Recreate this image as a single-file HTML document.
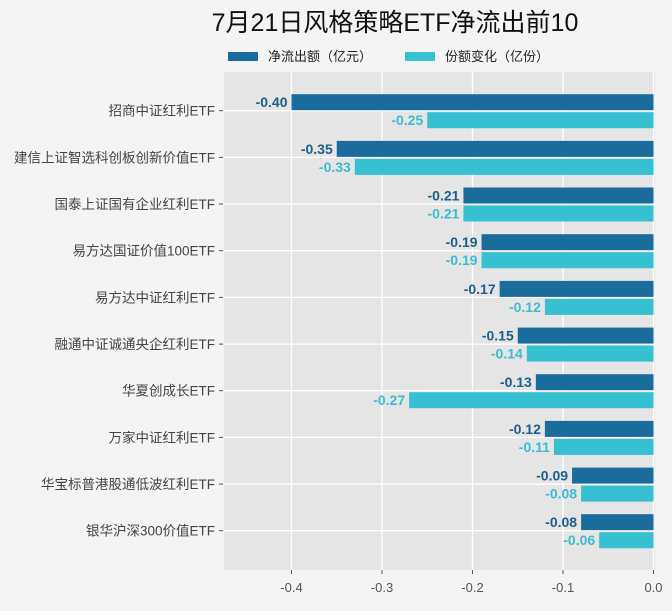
<!DOCTYPE html>
<html><head><meta charset="utf-8"><style>
body{margin:0;background:#f4f4f4;}
svg text{font-family:"Liberation Sans","Noto Sans CJK SC",sans-serif;}
.c{font-size:13.5px;fill:#444;text-anchor:end}
.a{font-size:14px;font-weight:bold;fill:#1d5f8a;text-anchor:end}
.b{font-size:14px;font-weight:bold;fill:#3dbcd0;text-anchor:end}
</style></head><body>
<svg width="672" height="606" xmlns="http://www.w3.org/2000/svg">
<rect width="672" height="606" fill="#f4f4f4"/>
<text x="395" y="31" font-size="25" text-anchor="middle" fill="#111">7月21日风格策略ETF净流出前10</text>
<rect x="228" y="52" width="30" height="9" fill="#1a6c9d"/>
<text x="268" y="61" font-size="13" fill="#222">净流出额（亿元）</text>
<rect x="405" y="52" width="30" height="9" fill="#37bfd2"/>
<text x="445" y="61" font-size="13" fill="#222">份额变化（亿份）</text>
<rect x="224" y="72" width="431" height="498" fill="#e5e5e5"/>
<g stroke="#fff" stroke-width="1.3">
<line x1="291.5" y1="72" x2="291.5" y2="570"/><line x1="382" y1="72" x2="382" y2="570"/><line x1="472.5" y1="72" x2="472.5" y2="570"/><line x1="563" y1="72" x2="563" y2="570"/><line x1="653.5" y1="72" x2="653.5" y2="570"/>
</g>

<g transform="translate(0,110.7)"><line x1="224" x2="655" stroke="#fff" stroke-width="1.3"/><line x1="219" x2="223" stroke="#555"/><text class="c" x="215" y="5">招商中证红利ETF</text>
<rect x="291.5" y="-16.5" width="362" height="16" fill="#1a6c9d"/><rect x="427.25" y="1.5" width="226.25" height="16" fill="#37bfd2"/>
<text class="a" x="287.5" y="-3.5">-0.40</text><text class="b" x="423.25" y="14.5">-0.25</text></g>

<g transform="translate(0,157.4)"><line x1="224" x2="655" stroke="#fff" stroke-width="1.3"/><line x1="219" x2="223" stroke="#555"/><text class="c" x="215" y="5">建信上证智选科创板创新价值ETF</text>
<rect x="336.75" y="-16.5" width="316.75" height="16" fill="#1a6c9d"/><rect x="354.85" y="1.5" width="298.65" height="16" fill="#37bfd2"/>
<text class="a" x="332.75" y="-3.5">-0.35</text><text class="b" x="350.85" y="14.5">-0.33</text></g>

<g transform="translate(0,204)"><line x1="224" x2="655" stroke="#fff" stroke-width="1.3"/><line x1="219" x2="223" stroke="#555"/><text class="c" x="215" y="5">国泰上证国有企业红利ETF</text>
<rect x="463.45" y="-16.5" width="190.05" height="16" fill="#1a6c9d"/><rect x="463.45" y="1.5" width="190.05" height="16" fill="#37bfd2"/>
<text class="a" x="459.45" y="-3.5">-0.21</text><text class="b" x="459.45" y="14.5">-0.21</text></g>

<g transform="translate(0,250.7)"><line x1="224" x2="655" stroke="#fff" stroke-width="1.3"/><line x1="219" x2="223" stroke="#555"/><text class="c" x="215" y="5">易方达国证价值100ETF</text>
<rect x="481.55" y="-16.5" width="171.95" height="16" fill="#1a6c9d"/><rect x="481.55" y="1.5" width="171.95" height="16" fill="#37bfd2"/>
<text class="a" x="477.55" y="-3.5">-0.19</text><text class="b" x="477.55" y="14.5">-0.19</text></g>

<g transform="translate(0,297.4)"><line x1="224" x2="655" stroke="#fff" stroke-width="1.3"/><line x1="219" x2="223" stroke="#555"/><text class="c" x="215" y="5">易方达中证红利ETF</text>
<rect x="499.65" y="-16.5" width="153.85" height="16" fill="#1a6c9d"/><rect x="544.9" y="1.5" width="108.6" height="16" fill="#37bfd2"/>
<text class="a" x="495.65" y="-3.5">-0.17</text><text class="b" x="540.9" y="14.5">-0.12</text></g>

<g transform="translate(0,344.1)"><line x1="224" x2="655" stroke="#fff" stroke-width="1.3"/><line x1="219" x2="223" stroke="#555"/><text class="c" x="215" y="5">融通中证诚通央企红利ETF</text>
<rect x="517.75" y="-16.5" width="135.75" height="16" fill="#1a6c9d"/><rect x="526.8" y="1.5" width="126.7" height="16" fill="#37bfd2"/>
<text class="a" x="513.75" y="-3.5">-0.15</text><text class="b" x="522.8" y="14.5">-0.14</text></g>

<g transform="translate(0,390.7)"><line x1="224" x2="655" stroke="#fff" stroke-width="1.3"/><line x1="219" x2="223" stroke="#555"/><text class="c" x="215" y="5">华夏创成长ETF</text>
<rect x="535.85" y="-16.5" width="117.65" height="16" fill="#1a6c9d"/><rect x="409.15" y="1.5" width="244.35" height="16" fill="#37bfd2"/>
<text class="a" x="531.85" y="-3.5">-0.13</text><text class="b" x="405.15" y="14.5">-0.27</text></g>

<g transform="translate(0,437.4)"><line x1="224" x2="655" stroke="#fff" stroke-width="1.3"/><line x1="219" x2="223" stroke="#555"/><text class="c" x="215" y="5">万家中证红利ETF</text>
<rect x="544.9" y="-16.5" width="108.6" height="16" fill="#1a6c9d"/><rect x="553.95" y="1.5" width="99.55" height="16" fill="#37bfd2"/>
<text class="a" x="540.9" y="-3.5">-0.12</text><text class="b" x="549.95" y="14.5">-0.11</text></g>

<g transform="translate(0,484.1)"><line x1="224" x2="655" stroke="#fff" stroke-width="1.3"/><line x1="219" x2="223" stroke="#555"/><text class="c" x="215" y="5">华宝标普港股通低波红利ETF</text>
<rect x="572.05" y="-16.5" width="81.45" height="16" fill="#1a6c9d"/><rect x="581.1" y="1.5" width="72.4" height="16" fill="#37bfd2"/>
<text class="a" x="568.05" y="-3.5">-0.09</text><text class="b" x="577.1" y="14.5">-0.08</text></g>

<g transform="translate(0,530.7)"><line x1="224" x2="655" stroke="#fff" stroke-width="1.3"/><line x1="219" x2="223" stroke="#555"/><text class="c" x="215" y="5">银华沪深300价值ETF</text>
<rect x="581.1" y="-16.5" width="72.4" height="16" fill="#1a6c9d"/><rect x="599.2" y="1.5" width="54.3" height="16" fill="#37bfd2"/>
<text class="a" x="577.1" y="-3.5">-0.08</text><text class="b" x="595.2" y="14.5">-0.06</text></g>

<g font-size="13" fill="#555" text-anchor="middle">
<text x="291.5" y="592">-0.4</text><text x="382" y="592">-0.3</text><text x="472.5" y="592">-0.2</text><text x="563" y="592">-0.1</text><text x="653.5" y="592">0.0</text>
</g>
<g stroke="#555"><line x1="291.5" y1="570" x2="291.5" y2="574"/><line x1="382" y1="570" x2="382" y2="574"/><line x1="472.5" y1="570" x2="472.5" y2="574"/><line x1="563" y1="570" x2="563" y2="574"/><line x1="653.5" y1="570" x2="653.5" y2="574"/></g>
</svg>
</body></html>
